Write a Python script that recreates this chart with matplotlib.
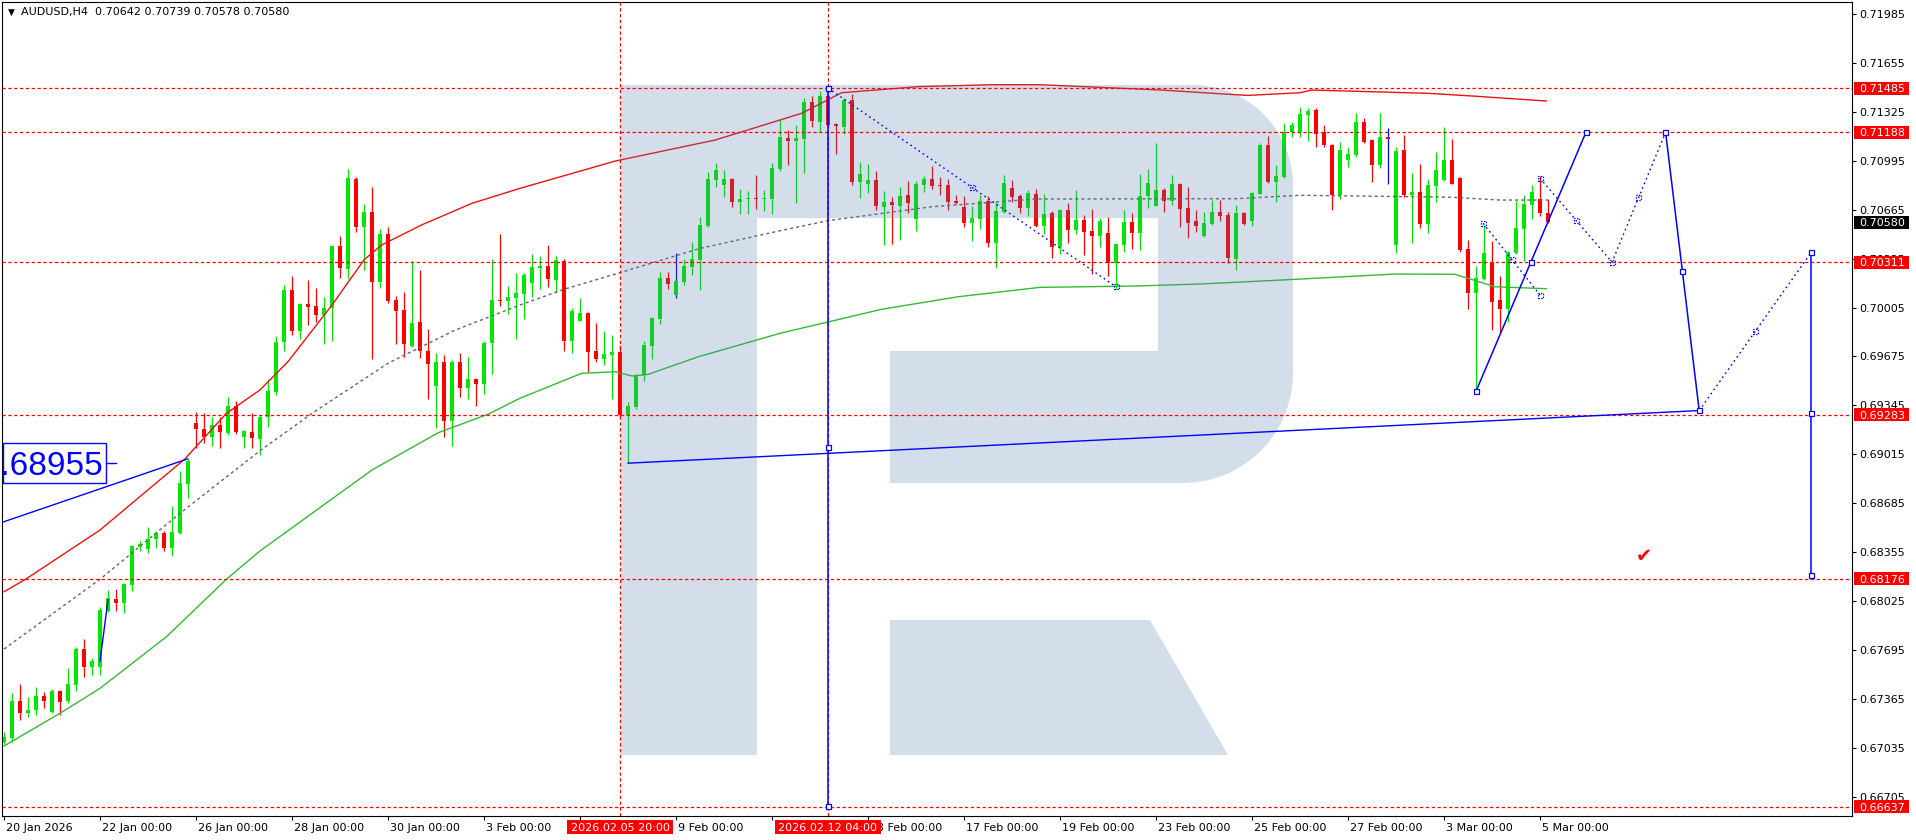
import numpy as np
import matplotlib
matplotlib.use("Agg")
import matplotlib.pyplot as plt
import matplotlib.transforms as mtransforms
from matplotlib.patches import Rectangle, Polygon

plt.rcParams['font.family'] = ['DejaVu Sans']
plt.rcParams['lines.scale_dashes'] = False

# ---------------- data ----------------
header = "AUDUSD,H4  0.70642 0.70739 0.70578 0.70580"
date_labels = ["20 Jan 2026", "22 Jan 00:00", "26 Jan 00:00", "28 Jan 00:00", "30 Jan 00:00",
               "3 Feb 00:00", "5 Feb 00:00", "9 Feb 00:00", "11 Feb 00:00", "13 Feb 00:00",
               "17 Feb 00:00", "19 Feb 00:00", "23 Feb 00:00", "25 Feb 00:00", "27 Feb 00:00",
               "3 Mar 00:00", "5 Mar 00:00"]
date_label_bars = [0, 12, 24, 36, 48, 60, 72, 84, 96, 108, 120, 132, 144, 156, 168, 180, 192]
price_ticks = [0.66705, 0.67035, 0.67365, 0.67695, 0.68025, 0.68355, 0.68685, 0.69015, 0.69345,
               0.69675, 0.70005, 0.70335, 0.70665, 0.70995, 0.71325, 0.71655, 0.71985]

opens = [0.67076, 0.67099, 0.67350, 0.67267, 0.67290, 0.67384, 0.67279, 0.67418, 0.67350, 0.67458,
         0.67701, 0.67582, 0.67578, 0.67960, 0.68036, 0.68009, 0.68135, 0.68392, 0.68376, 0.68441,
         0.68482, 0.68385, 0.68482, 0.68814, 0.69228, 0.69183, 0.69134, 0.69210, 0.69161, 0.69341,
         0.69129, 0.69163, 0.69116, 0.69264, 0.69437, 0.69775, 0.70123, 0.69846, 0.70029, 0.70015,
         0.69954, 0.69999, 0.70420, 0.70267, 0.70872, 0.70548, 0.70649, 0.70179, 0.70501, 0.70056,
         0.69988, 0.69748, 0.69907, 0.69712, 0.69478, 0.69637, 0.69242, 0.69637, 0.69464, 0.69523,
         0.69491, 0.69763, 0.70056, 0.70051, 0.70071, 0.70098, 0.70173, 0.70274, 0.70285, 0.70193,
         0.70319, 0.69781, 0.69916, 0.69968, 0.69712, 0.69660, 0.69687, 0.69705, 0.69278, 0.69336,
         0.69547, 0.69745, 0.69930, 0.70204, 0.70092, 0.70177, 0.70281, 0.70326, 0.70555, 0.70865,
         0.70831, 0.70872, 0.70719, 0.70735, 0.70744, 0.70735, 0.70739, 0.70937, 0.71149, 0.71131,
         0.71142, 0.71391, 0.71257, 0.71432, 0.71243, 0.71225, 0.71405, 0.70854, 0.70838, 0.70865,
         0.70685, 0.70717, 0.70690, 0.70764, 0.70602, 0.70831, 0.70872, 0.70831, 0.70831, 0.70723,
         0.70683, 0.70577, 0.70602, 0.70723, 0.70442, 0.70652, 0.70811, 0.70757, 0.70679, 0.70771,
         0.70557, 0.70643, 0.70415, 0.70663, 0.70530, 0.70595, 0.70521, 0.70490, 0.70508, 0.70308,
         0.70429, 0.70582, 0.70510, 0.70757, 0.70692, 0.70798, 0.70724, 0.70838, 0.70676, 0.70589,
         0.70490, 0.70571, 0.70649, 0.70629, 0.70335, 0.70643, 0.70589, 0.70773, 0.71101, 0.70852,
         0.70885, 0.71187, 0.71191, 0.71304, 0.71337, 0.71187, 0.71101, 0.70764, 0.71000, 0.71034,
         0.71256, 0.71135, 0.70966, 0.71155, 0.70427, 0.71068, 0.70764, 0.70784, 0.70568, 0.70825,
         0.70865, 0.71000, 0.70879, 0.70400, 0.70103, 0.70197, 0.70312, 0.70056, 0.69995, 0.70373,
         0.70535, 0.70697, 0.70737, 0.70642]
highs = [0.67144, 0.67402, 0.67465, 0.67375, 0.67443, 0.67414, 0.67429, 0.67425, 0.67571, 0.67717,
         0.67769, 0.67638, 0.67987, 0.68099, 0.68104, 0.68149, 0.68403, 0.68432, 0.68527, 0.68500,
         0.68500, 0.68666, 0.68904, 0.68988, 0.69300, 0.69291, 0.69264, 0.69269, 0.69404, 0.69377,
         0.69179, 0.69291, 0.69280, 0.69520, 0.69813, 0.70157, 0.70218, 0.70033, 0.70191, 0.70139,
         0.70076, 0.70427, 0.70487, 0.70939, 0.70885, 0.70703, 0.70820, 0.70535, 0.70548, 0.70083,
         0.70110, 0.70319, 0.70258, 0.69860, 0.69696, 0.69682, 0.69651, 0.69698, 0.69671, 0.69532,
         0.69779, 0.70332, 0.70501, 0.70150, 0.70236, 0.70240, 0.70364, 0.70352, 0.70427, 0.70352,
         0.70330, 0.69999, 0.70069, 0.69972, 0.69900, 0.69846, 0.69819, 0.69750, 0.69370, 0.69554,
         0.69779, 0.69939, 0.70245, 0.70245, 0.70370, 0.70332, 0.70445, 0.70618, 0.70919, 0.70980,
         0.70935, 0.70876, 0.70804, 0.70791, 0.70897, 0.70798, 0.70980, 0.71274, 0.71202, 0.71236,
         0.71421, 0.71434, 0.71466, 0.71485, 0.71252, 0.71416, 0.71445, 0.70987, 0.70973, 0.70928,
         0.70791, 0.70748, 0.70818, 0.70858, 0.70858, 0.70892, 0.70957, 0.70883, 0.70872, 0.70762,
         0.70757, 0.70690, 0.70762, 0.70757, 0.70714, 0.70899, 0.70867, 0.70771, 0.70798, 0.70804,
         0.70771, 0.70658, 0.70670, 0.70710, 0.70798, 0.70629, 0.70670, 0.70609, 0.70616, 0.70438,
         0.70663, 0.70645, 0.70906, 0.70939, 0.71115, 0.70811, 0.70899, 0.70843, 0.70818, 0.70663,
         0.70649, 0.70730, 0.70730, 0.70649, 0.70697, 0.70649, 0.70782, 0.71113, 0.71162, 0.70966,
         0.71247, 0.71256, 0.71360, 0.71351, 0.71351, 0.71236, 0.71108, 0.71122, 0.71086, 0.71317,
         0.71283, 0.71142, 0.71317, 0.71216, 0.71086, 0.71169, 0.70912, 0.70973, 0.70872, 0.71054,
         0.71223, 0.71142, 0.70883, 0.70460, 0.70285, 0.70562, 0.70454, 0.70218, 0.70384, 0.70724,
         0.70764, 0.70829, 0.70892, 0.70739]
lows = [0.67060, 0.67076, 0.67222, 0.67240, 0.67256, 0.67301, 0.67272, 0.67256, 0.67339, 0.67420,
        0.67515, 0.67526, 0.67526, 0.67953, 0.67960, 0.67946, 0.68095, 0.68365, 0.68351, 0.68380,
        0.68365, 0.68331, 0.68477, 0.68722, 0.69055, 0.69089, 0.69071, 0.69055, 0.69145, 0.69152,
        0.69055, 0.69055, 0.69010, 0.69197, 0.69415, 0.69714, 0.69820, 0.69792, 0.69887, 0.69907,
        0.69759, 0.69779, 0.70204, 0.70195, 0.70517, 0.70258, 0.69658, 0.70139, 0.70038, 0.69759,
        0.69673, 0.69741, 0.69667, 0.69388, 0.69194, 0.69134, 0.69073, 0.69399, 0.69390, 0.69343,
        0.69424, 0.69559, 0.70017, 0.69963, 0.69795, 0.69925, 0.70074, 0.70128, 0.70141, 0.70101,
        0.69714, 0.69700, 0.69916, 0.69572, 0.69640, 0.69617, 0.69390, 0.69269, 0.68955, 0.69320,
        0.69509, 0.69658, 0.69894, 0.70130, 0.70071, 0.70159, 0.70224, 0.70123, 0.70550, 0.70818,
        0.70750, 0.70683, 0.70636, 0.70636, 0.70672, 0.70654, 0.70636, 0.70928, 0.70966, 0.70712,
        0.70915, 0.71220, 0.71187, 0.71229, 0.71041, 0.71173, 0.70831, 0.70746, 0.70775, 0.70663,
        0.70427, 0.70433, 0.70460, 0.70645, 0.70523, 0.70786, 0.70804, 0.70764, 0.70663, 0.70703,
        0.70550, 0.70454, 0.70535, 0.70415, 0.70274, 0.70645, 0.70719, 0.70645, 0.70625, 0.70550,
        0.70501, 0.70341, 0.70368, 0.70440, 0.70503, 0.70359, 0.70233, 0.70415, 0.70220, 0.70132,
        0.70382, 0.70397, 0.70391, 0.70674, 0.70692, 0.70652, 0.70697, 0.70550, 0.70476, 0.70517,
        0.70481, 0.70564, 0.70591, 0.70308, 0.70260, 0.70562, 0.70557, 0.70769, 0.70847, 0.70719,
        0.70879, 0.71155, 0.71155, 0.71128, 0.71090, 0.71086, 0.70663, 0.70737, 0.70951, 0.71020,
        0.71113, 0.70854, 0.70946, 0.70838, 0.70373, 0.70753, 0.70440, 0.70544, 0.70508, 0.70717,
        0.70858, 0.70835, 0.70379, 0.69995, 0.69440, 0.70191, 0.69856, 0.69833, 0.69910, 0.70366,
        0.70319, 0.70602, 0.70622, 0.70578]
closes = [0.67105, 0.67350, 0.67267, 0.67290, 0.67384, 0.67353, 0.67418, 0.67346, 0.67465, 0.67701,
          0.67582, 0.67620, 0.67964, 0.68043, 0.68009, 0.68140, 0.68396, 0.68410, 0.68443, 0.68482,
          0.68385, 0.68488, 0.68819, 0.68970, 0.69188, 0.69134, 0.69210, 0.69167, 0.69341, 0.69167,
          0.69172, 0.69122, 0.69269, 0.69444, 0.69775, 0.70123, 0.69849, 0.70029, 0.70011, 0.69957,
          0.70002, 0.70422, 0.70274, 0.70879, 0.70548, 0.70649, 0.70179, 0.70501, 0.70049, 0.69984,
          0.69757, 0.69900, 0.69712, 0.69626, 0.69637, 0.69242, 0.69637, 0.69464, 0.69523, 0.69491,
          0.69766, 0.70056, 0.70049, 0.70076, 0.70103, 0.70224, 0.70278, 0.70285, 0.70200, 0.70323,
          0.69781, 0.69981, 0.69968, 0.69707, 0.69660, 0.69691, 0.69705, 0.69278, 0.69341, 0.69550,
          0.69752, 0.69934, 0.70204, 0.70166, 0.70182, 0.70285, 0.70330, 0.70562, 0.70872, 0.70933,
          0.70872, 0.70719, 0.70737, 0.70744, 0.70735, 0.70744, 0.70946, 0.71155, 0.71131, 0.71149,
          0.71391, 0.71265, 0.71432, 0.71236, 0.71227, 0.71405, 0.70854, 0.70903, 0.70865, 0.70692,
          0.70717, 0.70697, 0.70757, 0.70708, 0.70838, 0.70872, 0.70827, 0.70827, 0.70719, 0.70708,
          0.70577, 0.70609, 0.70723, 0.70442, 0.70656, 0.70845, 0.70753, 0.70679, 0.70777, 0.70557,
          0.70636, 0.70415, 0.70665, 0.70530, 0.70595, 0.70517, 0.70490, 0.70589, 0.70308, 0.70433,
          0.70582, 0.70510, 0.70757, 0.70845, 0.70798, 0.70724, 0.70838, 0.70672, 0.70577, 0.70557,
          0.70575, 0.70649, 0.70625, 0.70341, 0.70643, 0.70568, 0.70778, 0.71101, 0.70852, 0.70892,
          0.71187, 0.71236, 0.71310, 0.71328, 0.71178, 0.71101, 0.70764, 0.71068, 0.71041, 0.71256,
          0.71124, 0.70966, 0.71155, 0.71142, 0.71061, 0.70764, 0.70784, 0.70568, 0.70831, 0.70933,
          0.71000, 0.70838, 0.70393, 0.70103, 0.70204, 0.70373, 0.70042, 0.69995, 0.70379, 0.70541,
          0.70703, 0.70784, 0.70643, 0.70580]

# moving averages (bar index, price)
ma_red_x = [0, 2.7, 12, 22.6, 27.8, 32, 35.5, 41, 45, 47.2, 52.2, 58.5, 64.5, 76.4, 88.9, 97, 99.7,
            104.7, 114.3, 123.5, 129.5, 144.7, 152.6, 155.5, 162, 163.5, 178, 183.5, 192.8]
ma_red_y = [0.68088, 0.68172, 0.68504, 0.68983, 0.69291, 0.69449, 0.69640, 0.70022, 0.70326, 0.70427,
            0.70562, 0.70708, 0.70809, 0.70993, 0.71135, 0.71270, 0.71315, 0.71454, 0.71495, 0.71508,
            0.71508, 0.71472, 0.71445, 0.71436, 0.71454, 0.71472, 0.71450, 0.71432, 0.71398]
ma_gray_x = [0, 12, 22, 32, 38.5, 48, 56.4, 64.5, 70, 77, 87, 97, 103, 116, 129, 154, 162, 181, 187, 193]
ma_gray_y = [0.67701, 0.68172, 0.68617, 0.69039, 0.69291, 0.69629, 0.69853, 0.70022, 0.70128, 0.70240,
             0.70404, 0.70523, 0.70591, 0.70685, 0.70737, 0.70739, 0.70762, 0.70749, 0.70730, 0.70730]
ma_green_x = [0, 7, 12, 20.3, 27.8, 32, 46, 54.3, 60.5, 64.5, 72.2, 76.4, 78.5, 80.5, 86.8, 97, 109.7,
              119.3, 129.5, 141.4, 149.7, 158, 162, 173.9, 181.4, 186.4, 192.8]
ma_green_y = [0.67047, 0.67268, 0.67436, 0.67784, 0.68172, 0.68363, 0.68909, 0.69161, 0.69285, 0.69393,
              0.69561, 0.69572, 0.69543, 0.69554, 0.69673, 0.69831, 0.69993, 0.70078, 0.70141, 0.70150,
              0.70164, 0.70186, 0.70197, 0.70231, 0.70229, 0.70145, 0.70132]

levels = [0.71485, 0.71188, 0.70311, 0.69283, 0.68176, 0.66637]
last_price = 0.70580
vlines_bars = [77, 103]
vline_labels = ["2026.02.05 20:00", "2026.02.12 04:00"]
label_price = 0.68955

# drawn objects (bar index, price)
trend_x = [78, 211.9]
trend_y = [0.68955, 0.69310]
left_line_x = [-0.5, 22.9]
left_line_y = [0.68551, 0.68983]
diag_x = [103, 139]
diag_y = [0.71485, 0.70145]
vert1_x = [103, 103]
vert1_y = [0.71485, 0.66637]
fc_solid1_x = [184, 197.75]
fc_solid1_y = [0.69440, 0.71188]
fc_dot_small_x = [184.9, 192]
fc_dot_small_y = [0.70573, 0.70089]
fc_dot1_x = [192, 201, 207.7]
fc_dot1_y = [0.70877, 0.70311, 0.71188]
fc_solid2_x = [207.7, 211.9]
fc_solid2_y = [0.71188, 0.69310]
fc_dot2_x = [211.9, 225.9]
fc_dot2_y = [0.69310, 0.70377]
vert2_x = [225.9, 225.9]
vert2_y = [0.70377, 0.68199]
solid_marks_x = [103, 103, 103, 184, 190.9, 197.75, 207.7, 209.8, 211.9, 225.9, 225.9, 225.9]
solid_marks_y = [0.71485, 0.69061, 0.66637, 0.69440, 0.70311, 0.71188, 0.71188, 0.70249, 0.69310,
                 0.70377, 0.69288, 0.68199]
dot_marks_x = [121, 139, 184.9, 188.5, 192, 192, 196.5, 201, 204.35, 218.9]
dot_marks_y = [0.70815, 0.70145, 0.70573, 0.70331, 0.70089, 0.70877, 0.70594, 0.70311, 0.70750, 0.69844]
blue_wick_bars = [84, 173]

# ---------------- layout ----------------
W, H = 1916, 840
fig = plt.figure(figsize=(W / 100, H / 100), dpi=100, facecolor='white')
AX_L, AX_R, AX_T, AX_B = 2, 1852, 2, 816
ax = fig.add_axes([AX_L / W, 1 - AX_B / H, (AX_R - AX_L) / W, (AX_B - AX_T) / H])
XMIN, XMAX = -0.25, 231.0
YMIN, YMAX = 0.66575, 0.72066
ax.set_xlim(XMIN, XMAX)
ax.set_ylim(YMIN, YMAX)
PPX = (YMAX - YMIN) / (AX_B - AX_T)   # price per pixel
BPX = (XMAX - XMIN) / (AX_R - AX_L)   # bars per pixel
pix = mtransforms.Affine2D().scale(1 / W, -1 / H).translate(0, 1) + fig.transFigure

BULL = '#00e600'
BEAR = '#ff0000'
BLUE = '#0000ff'

# candles
o = np.array(opens); h = np.array(highs); l = np.array(lows); c = np.array(closes)
idx = np.arange(len(o))
up = c >= o
cols = np.where(up, BULL, BEAR)
wick_cols = [BLUE if i in blue_wick_bars else cols[i] for i in idx]
ax.vlines(idx, l, h, colors=wick_cols, lw=0.9, zorder=2)
body = np.maximum(np.abs(c - o), PPX)
ax.bar(idx, body, bottom=np.minimum(o, c), width=0.62, color=cols, linewidth=0, zorder=2.1)

# indicators
ax.plot(ma_red_x, ma_red_y, color='#ee1111', lw=1.0, zorder=2.5)
ax.plot(ma_green_x, ma_green_y, color='#33bb33', lw=1.0, zorder=2.5)
ax.plot(ma_gray_x, ma_gray_y, color='#666666', lw=1.0, dashes=(2.2, 2.2), zorder=2.5)

# watermark (decorative logo)
def arc(cx, cy, r, t0, t1, n=30):
    t = np.radians(np.linspace(t0, t1, n))
    return list(zip(cx + r * np.cos(t), cy - r * np.sin(t)))
r1, r2 = 100, 110
bowl = [(621, 85)] + arc(1293 - r1, 85 + r1, r1, 90, 0) + arc(1293 - r2, 483 - r2, r2, 0, -90) + \
       [(890, 483), (890, 351), (1158, 351), (1158, 218), (757, 218), (757, 755), (621, 755)]
leg = [(890, 620), (1150, 620), (1228, 755), (890, 755)]
logo_col = (82 / 255, 123 / 255, 173 / 255)
for pts in (bowl, leg):
    ax.add_patch(Polygon(pts, closed=True, transform=pix, facecolor=logo_col, alpha=0.243,
                         edgecolor='none', zorder=3))

# horizontal levels and vertical lines
for lv in levels:
    ax.axhline(lv, color='#ff0000', lw=0.9, dashes=(2.4, 1.8), zorder=4)
for vb in vlines_bars:
    ax.axvline(vb, color='#ff0000', lw=0.9, dashes=(2.4, 1.8), zorder=4)

# blue objects
ax.plot(trend_x, trend_y, color=BLUE, lw=1.0, zorder=5)
ax.plot(left_line_x, left_line_y, color=BLUE, lw=1.0, zorder=5)
ax.plot([12, 13], [closes[11], closes[13] - 0.0001], color=BLUE, lw=1.0, zorder=5)
ax.plot(vert1_x, vert1_y, color=BLUE, lw=1.1, zorder=5)
ax.plot(diag_x, diag_y, color=BLUE, lw=1.0, dashes=(1.2, 2.4), zorder=5)
ax.plot(fc_solid1_x, fc_solid1_y, color=BLUE, lw=1.1, zorder=5)
ax.plot(fc_solid2_x, fc_solid2_y, color=BLUE, lw=1.1, zorder=5)
ax.plot(vert2_x, vert2_y, color=BLUE, lw=1.1, zorder=5)
for xs, ys in ((fc_dot_small_x, fc_dot_small_y), (fc_dot1_x, fc_dot1_y), (fc_dot2_x, fc_dot2_y)):
    ax.plot(xs, ys, color=BLUE, lw=1.0, dashes=(1.2, 2.4), zorder=5)
sq = 5
for x, y in zip(solid_marks_x, solid_marks_y):
    ax.add_patch(Rectangle((x - sq / 2 * BPX, y - sq / 2 * PPX), sq * BPX, sq * PPX, facecolor='white',
                           edgecolor=BLUE, lw=0.9, zorder=6))
for x, y in zip(dot_marks_x, dot_marks_y):
    ax.add_patch(Rectangle((x - sq / 2 * BPX, y - sq / 2 * PPX), sq * BPX, sq * PPX, facecolor='none',
                           edgecolor=BLUE, lw=0.9, linestyle=(0, (1.0, 1.0)), zorder=6))

# price label object on the left
bx0, bx1 = XMIN + 0.7 * BPX, XMIN + 103.7 * BPX
ax.add_patch(Rectangle((bx0, label_price - 20 * PPX), bx1 - bx0, 40 * PPX, facecolor='white',
                       edgecolor=BLUE, lw=1.0, zorder=7))
ax.plot([bx1, bx1 + 10 * BPX], [label_price, label_price], color=BLUE, lw=1.0, zorder=7)
ax.text(bx1 - 2.5 * BPX, label_price, f"{label_price:.5f}", color=BLUE, fontsize=24,
        family=['Liberation Sans', 'DejaVu Sans'], ha='right', va='center_baseline', zorder=8, clip_on=True)

# check mark
ax.text(1644, 556, "\u2714", transform=pix, color='#ff0000', fontsize=14, ha='center', va='center', zorder=8)

# ---------------- axes styling ----------------
for s in ax.spines.values():
    s.set_color('black'); s.set_linewidth(0.8)
ax.yaxis.tick_right()
ax.set_yticks(price_ticks)
ax.set_yticklabels([f"{p:.5f}" for p in price_ticks])
ax.tick_params(axis='y', right=True, left=False, labelright=True, labelleft=False, length=3,
               width=0.8, pad=2.2, labelsize=8, colors='black')
ax.set_xticks(date_label_bars)
ax.set_xticklabels([])
ax.tick_params(axis='x', bottom=True, length=3, width=0.8, colors='black')
xt = ax.get_xaxis_transform()
for b, lab in zip(date_label_bars, date_labels):
    ax.text(b + 0.3, -0.0135, lab, transform=xt, ha='left', va='center_baseline', fontsize=8,
            color='black', clip_on=False)

# vertical line date labels
for vb, lab in zip(vlines_bars, vline_labels):
    ax.add_patch(Rectangle((vb - 53 * BPX, -0.0221), 106 * BPX, 0.0172, transform=xt, facecolor='#ff0000',
                           edgecolor='none', clip_on=False, zorder=10))
    ax.text(vb, -0.0135, lab, transform=xt, ha='center', va='center_baseline', fontsize=8, color='white',
            clip_on=False, zorder=11)

# right-side colored price labels
yt = ax.get_yaxis_transform()
axw = AX_R - AX_L
def price_box(p, fc):
    ax.add_patch(Rectangle((1 + 2 / axw, p - 6.5 * PPX), 55 / axw, 13 * PPX, transform=yt, facecolor=fc,
                           edgecolor='none', clip_on=False, zorder=10))
    ax.text(1 + 7 / axw, p, f"{p:.5f}", transform=yt, ha='left', va='center_baseline', fontsize=8,
            color='white', clip_on=False, zorder=11)
for lv in levels:
    price_box(lv, '#ff0000')
price_box(last_price, 'black')

# header
fig.text(11, 12, "\u25BC", transform=pix, fontsize=6.5, ha='center', va='center', color='black')
fig.text(21, 12.5, header, transform=pix, fontsize=8, ha='left', va='center', color='black')

fig.savefig('out.png', dpi=100, facecolor='white')
